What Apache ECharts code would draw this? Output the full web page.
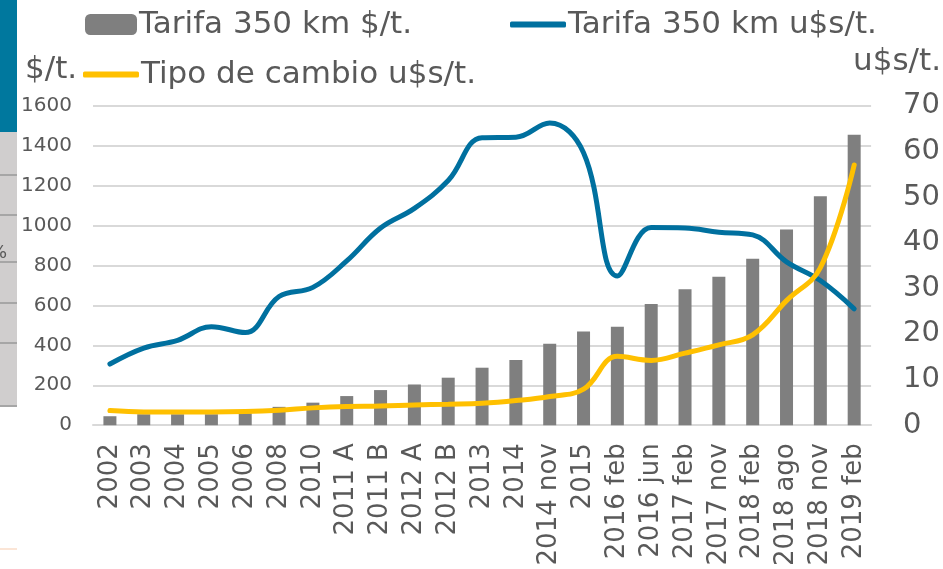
<!DOCTYPE html>
<html>
<head>
<meta charset="utf-8">
<script src="https://cdn.jsdelivr.net/npm/echarts@6/dist/echarts.min.js"></script>
<style>
  html, body { margin: 0; padding: 0; background: #fff; }
  #chart { width: 943px; height: 569px; }
</style>
</head>
<body>
<div id="chart"></div>
<script>
const categories = ['2002', '2003', '2004', '2005', '2006', '2008', '2010', '2011 A', '2011 B',
  '2012 A', '2012 B', '2013', '2014', '2014 nov', '2015', '2016 feb', '2016 jun', '2017 feb',
  '2017 nov', '2018 feb', '2018 ago', '2018 nov', '2019 feb'];

// Tarifa 350 km, $/t. (left axis)
const tarifaPesos = [45, 55, 55, 55, 60, 92, 113, 146, 176, 204, 238, 288, 326, 408, 469,
  493, 607, 681, 743, 834, 980, 1146, 1454];

// Tarifa 350 km, u$s/t. (right axis)
const tarifaDolares = [13.4, 16.9, 18.6, 21.6, 20.3, 28.2, 30.2, 36, 43.2, 47.5, 53.6, 63, 63.1,
  66.2, 59.7, 32.7, 43.3, 43.2, 42.3, 41.7, 35.8, 31.7, 25.5];

// Tipo de cambio (right axis)
const tipoCambio = [3.2, 2.9, 2.9, 2.9, 3.0, 3.3, 3.8, 4.1, 4.2, 4.45, 4.6, 4.8, 5.4, 6.3, 7.9,
  15.1, 14.2, 15.8, 17.6, 19.8, 27.3, 34.5, 57];

const leftTicks = [0, 1600, 200];
const rightTicks = [0, 70, 10];

const font = 'DejaVu Sans';
const textColor = '#595959';
const blue = '#00709F';
const yellow = '#FFC000';
const gray = '#7F7F7F';

const chart = echarts.init(document.getElementById('chart'));

const legendText = { fontFamily: font, fontSize: 31, color: textColor, padding: [0, 0, 0, -3] };

chart.setOption({
  animation: false,
  textStyle: { fontFamily: font, color: textColor },
  grid: { left: 93, right: 70, top: 105.7, bottom: 139 },
  legend: [
    {
      data: ['Tarifa 350 km $/t.'],
      left: 80, top: 4,
      itemWidth: 52, itemHeight: 21,
      textStyle: legendText
    },
    {
      data: [{ name: 'Tarifa 350 km u$s/t.', icon: 'roundRect' }],
      left: 505, top: 4,
      itemWidth: 56, itemHeight: 6,
      textStyle: legendText
    },
    {
      data: [{ name: 'Tipo de cambio u$s/t.', icon: 'roundRect' }],
      left: 78, top: 54,
      itemWidth: 56, itemHeight: 6,
      textStyle: legendText
    }
  ],
  graphic: [
    { type: 'rect', shape: { x: 0, y: 0, width: 17, height: 132 }, style: { fill: '#00789E' } },
    { type: 'rect', shape: { x: 0, y: 132, width: 17, height: 275 }, style: { fill: '#D0CECE' } },
    { type: 'rect', shape: { x: 0, y: 174, width: 17, height: 2 }, style: { fill: '#A6A6A6' } },
    { type: 'rect', shape: { x: 0, y: 214, width: 17, height: 2 }, style: { fill: '#A6A6A6' } },
    { type: 'rect', shape: { x: 0, y: 261, width: 17, height: 2 }, style: { fill: '#A6A6A6' } },
    { type: 'rect', shape: { x: 0, y: 302, width: 17, height: 2 }, style: { fill: '#A6A6A6' } },
    { type: 'rect', shape: { x: 0, y: 342, width: 17, height: 2 }, style: { fill: '#A6A6A6' } },
    { type: 'rect', shape: { x: 0, y: 405, width: 17, height: 2 }, style: { fill: '#A6A6A6' } },
    { type: 'rect', shape: { x: 0, y: 548, width: 17, height: 2 }, style: { fill: '#FBE5D6' } },
    { type: 'text', x: -10, y: 244, style: { text: '%', font: '18px ' + font, fill: textColor } },
    { type: 'text', x: 25, y: 54, style: { text: '$/t.', font: '31px ' + font, fill: textColor } },
    { type: 'text', x: 941, y: 46, style: { text: 'u$s/t.', font: '31px ' + font, fill: textColor, align: 'right' } }
  ],
  xAxis: {
    type: 'category',
    data: categories,
    axisLine: { lineStyle: { color: '#D9D9D9', width: 2 } },
    axisTick: { show: false },
    axisLabel: { interval: 0, rotate: 90, margin: 18, fontSize: 26, color: textColor, fontFamily: font }
  },
  yAxis: [
    {
      type: 'value',
      min: leftTicks[0], max: leftTicks[1], interval: leftTicks[2],
      axisLine: { show: false },
      axisTick: { show: false },
      splitLine: { lineStyle: { color: '#D9D9D9', width: 2 } },
      axisLabel: { margin: 21, fontSize: 20, color: textColor, fontFamily: font, formatter: v => String(v) }
    },
    {
      type: 'value',
      min: rightTicks[0], max: rightTicks[1], interval: rightTicks[2],
      axisLine: { show: false },
      axisTick: { show: false },
      splitLine: { show: false },
      axisLabel: { margin: 32, fontSize: 29, color: textColor, fontFamily: font }
    }
  ],
  series: [
    {
      name: 'Tarifa 350 km $/t.',
      type: 'bar',
      data: tarifaPesos,
      barWidth: 13,
      itemStyle: { color: gray }
    },
    {
      name: 'Tarifa 350 km u$s/t.',
      type: 'line',
      yAxisIndex: 1,
      data: tarifaDolares,
      smooth: 0.4,
      symbol: 'none',
      lineStyle: { color: blue, width: 5, cap: 'round' },
      itemStyle: { color: blue }
    },
    {
      name: 'Tipo de cambio u$s/t.',
      type: 'line',
      yAxisIndex: 1,
      data: tipoCambio,
      smooth: 0.4,
      symbol: 'none',
      lineStyle: { color: yellow, width: 5, cap: 'round' },
      itemStyle: { color: yellow }
    }
  ]
});
</script>
</body>
</html>
